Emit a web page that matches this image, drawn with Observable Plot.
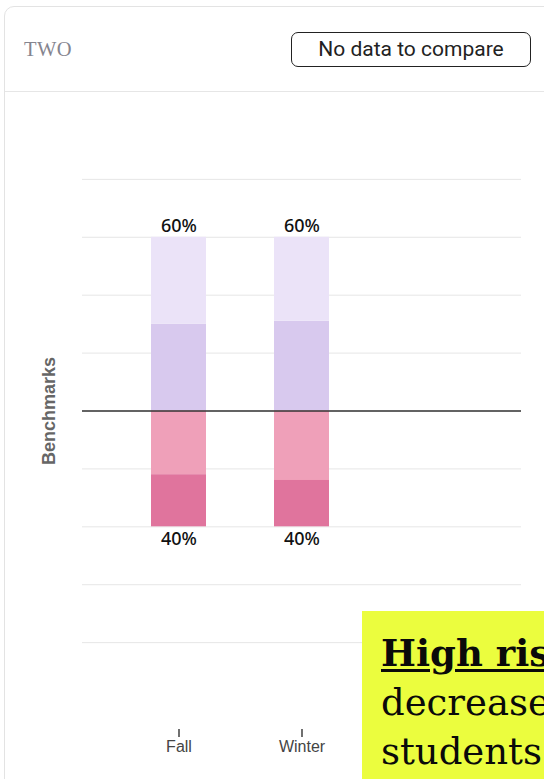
<!DOCTYPE html>
<html>
<head>
<meta charset="utf-8">
<script src="https://cdn.jsdelivr.net/npm/d3@7"></script>
<script src="https://cdn.jsdelivr.net/npm/@observablehq/plot@0.6"></script>
<style>
  html, body { margin: 0; padding: 0; background: #fff; }
  body { width: 544px; height: 779px; overflow: hidden; position: relative; }
  .card {
    position: absolute; left: 4px; top: 6px; width: 640px; height: 860px;
    border: 1px solid #e3e3e3; border-radius: 10px; box-sizing: border-box;
  }
  .card-head {
    position: absolute; left: 0; top: 0; right: 0; height: 84px;
    border-bottom: 1px solid #e6e6e6;
  }
  .title {
    position: absolute; left: 19px; top: 32px;
    font: 20.5px/20px "Liberation Serif", serif; color: #85858f; letter-spacing: 0.4px;
  }
  .compare {
    position: absolute; left: 286px; top: 25px; width: 240px; height: 35px;
    box-sizing: border-box; border: 1.5px solid #222; border-radius: 7px;
    display: flex; align-items: center; justify-content: center;
    font: 21px/21px Roboto, sans-serif; color: #222;
  }
  #chart { position: absolute; left: 0; top: 91px; }
  .note {
    position: absolute; left: 362px; top: 611px; width: 400px; height: 200px;
    background: #ebfd3e; box-sizing: border-box; padding: 18px 0 0 19px;
    font: 37px/49px "DejaVu Serif", serif; color: #0a0a0a; white-space: nowrap; z-index: 2;
  }
  .note b { font-weight: 700; text-decoration: underline; text-decoration-thickness: 3px; text-underline-offset: 3px; }
</style>
</head>
<body>
<div class="card">
  <div class="card-head">
    <div class="title">TWO</div>
    <div class="compare">No data to compare</div>
  </div>
</div>
<div id="chart"></div>
<div class="note"><b>High risk</b><br>decreased by 2% of<br>students.</div>
<script>
// Assessment terms on the x axis; only the first two have results so far.
const terms = ["Fall", "Winter", "Spring"];
const reportedTerms = ["Fall", "Winter"];

// Share of students per benchmark tier (percent), one value per reported term.
const lowRisk = [30, 31];      // just above the benchmark line
const minimalRisk = [30, 29];  // well above the benchmark line
const someRisk = [22, 24];     // just below the benchmark line
const highRisk = [18, 16];     // well below the benchmark line

const levels = ["Low risk", "Minimal risk", "Some risk", "High risk"];
const levelColors = ["#d8c9ee", "#ebe3f8", "#efa0b9", "#e0749d"];

const gridTicks = [-80, -60, -40, -20, 0, 20, 40, 60, 80];

// Above-benchmark tiers stack upward, below-benchmark tiers stack downward.
const rows = [];
reportedTerms.forEach((term, i) => {
  rows.push({term, level: "Low risk", value: lowRisk[i]});
  rows.push({term, level: "Minimal risk", value: minimalRisk[i]});
  rows.push({term, level: "Some risk", value: -someRisk[i]});
  rows.push({term, level: "High risk", value: -highRisk[i]});
});

const totals = reportedTerms.map((term, i) => ({
  term,
  above: lowRisk[i] + minimalRisk[i],
  below: someRisk[i] + highRisk[i]
}));

const chart = Plot.plot({
  width: 544,
  height: 688,
  marginLeft: 82,
  marginRight: 23,
  marginTop: 1,
  marginBottom: 50,
  style: {background: "transparent", overflow: "visible", fontFamily: "'Liberation Sans', Arial, sans-serif"},
  x: {domain: terms, padding: 0.55, axis: null},
  y: {domain: [-110, 110], axis: null},
  color: {domain: levels, range: levelColors},
  marks: [
    Plot.gridY(gridTicks, {stroke: "#e6e6e6", strokeOpacity: 1, strokeWidth: 1}),
    Plot.barY(rows, {x: "term", y: "value", fill: "level", inset: 0}),
    Plot.ruleY([0], {stroke: "#333", strokeWidth: 1.5}),
    Plot.text(totals, {
      x: "term", y: "above", text: d => `${d.above}%`, dy: -11,
      fontSize: 18, fontWeight: 500, fontFamily: "'Noto Sans', sans-serif", fill: "#111"
    }),
    Plot.text(totals, {
      x: "term", y: d => -d.below, text: d => `${d.below}%`, dy: 12,
      fontSize: 18, fontWeight: 500, fontFamily: "'Noto Sans', sans-serif", fill: "#111"
    }),
    Plot.axisX({
      ticks: reportedTerms, tickSize: 8, tickPadding: 3, fontSize: 16,
      stroke: "#333", strokeWidth: 1.4, fill: "#444", label: null
    }),
    Plot.text(["Benchmarks"], {
      frameAnchor: "left", textAnchor: "middle", rotate: -90, dx: -33, text: d => d,
      fontSize: 18, fontWeight: "bold", fill: "#666",
      fontFamily: "'Liberation Sans', Arial, sans-serif"
    })
  ]
});

document.getElementById("chart").appendChild(chart);
</script>
</body>
</html>
